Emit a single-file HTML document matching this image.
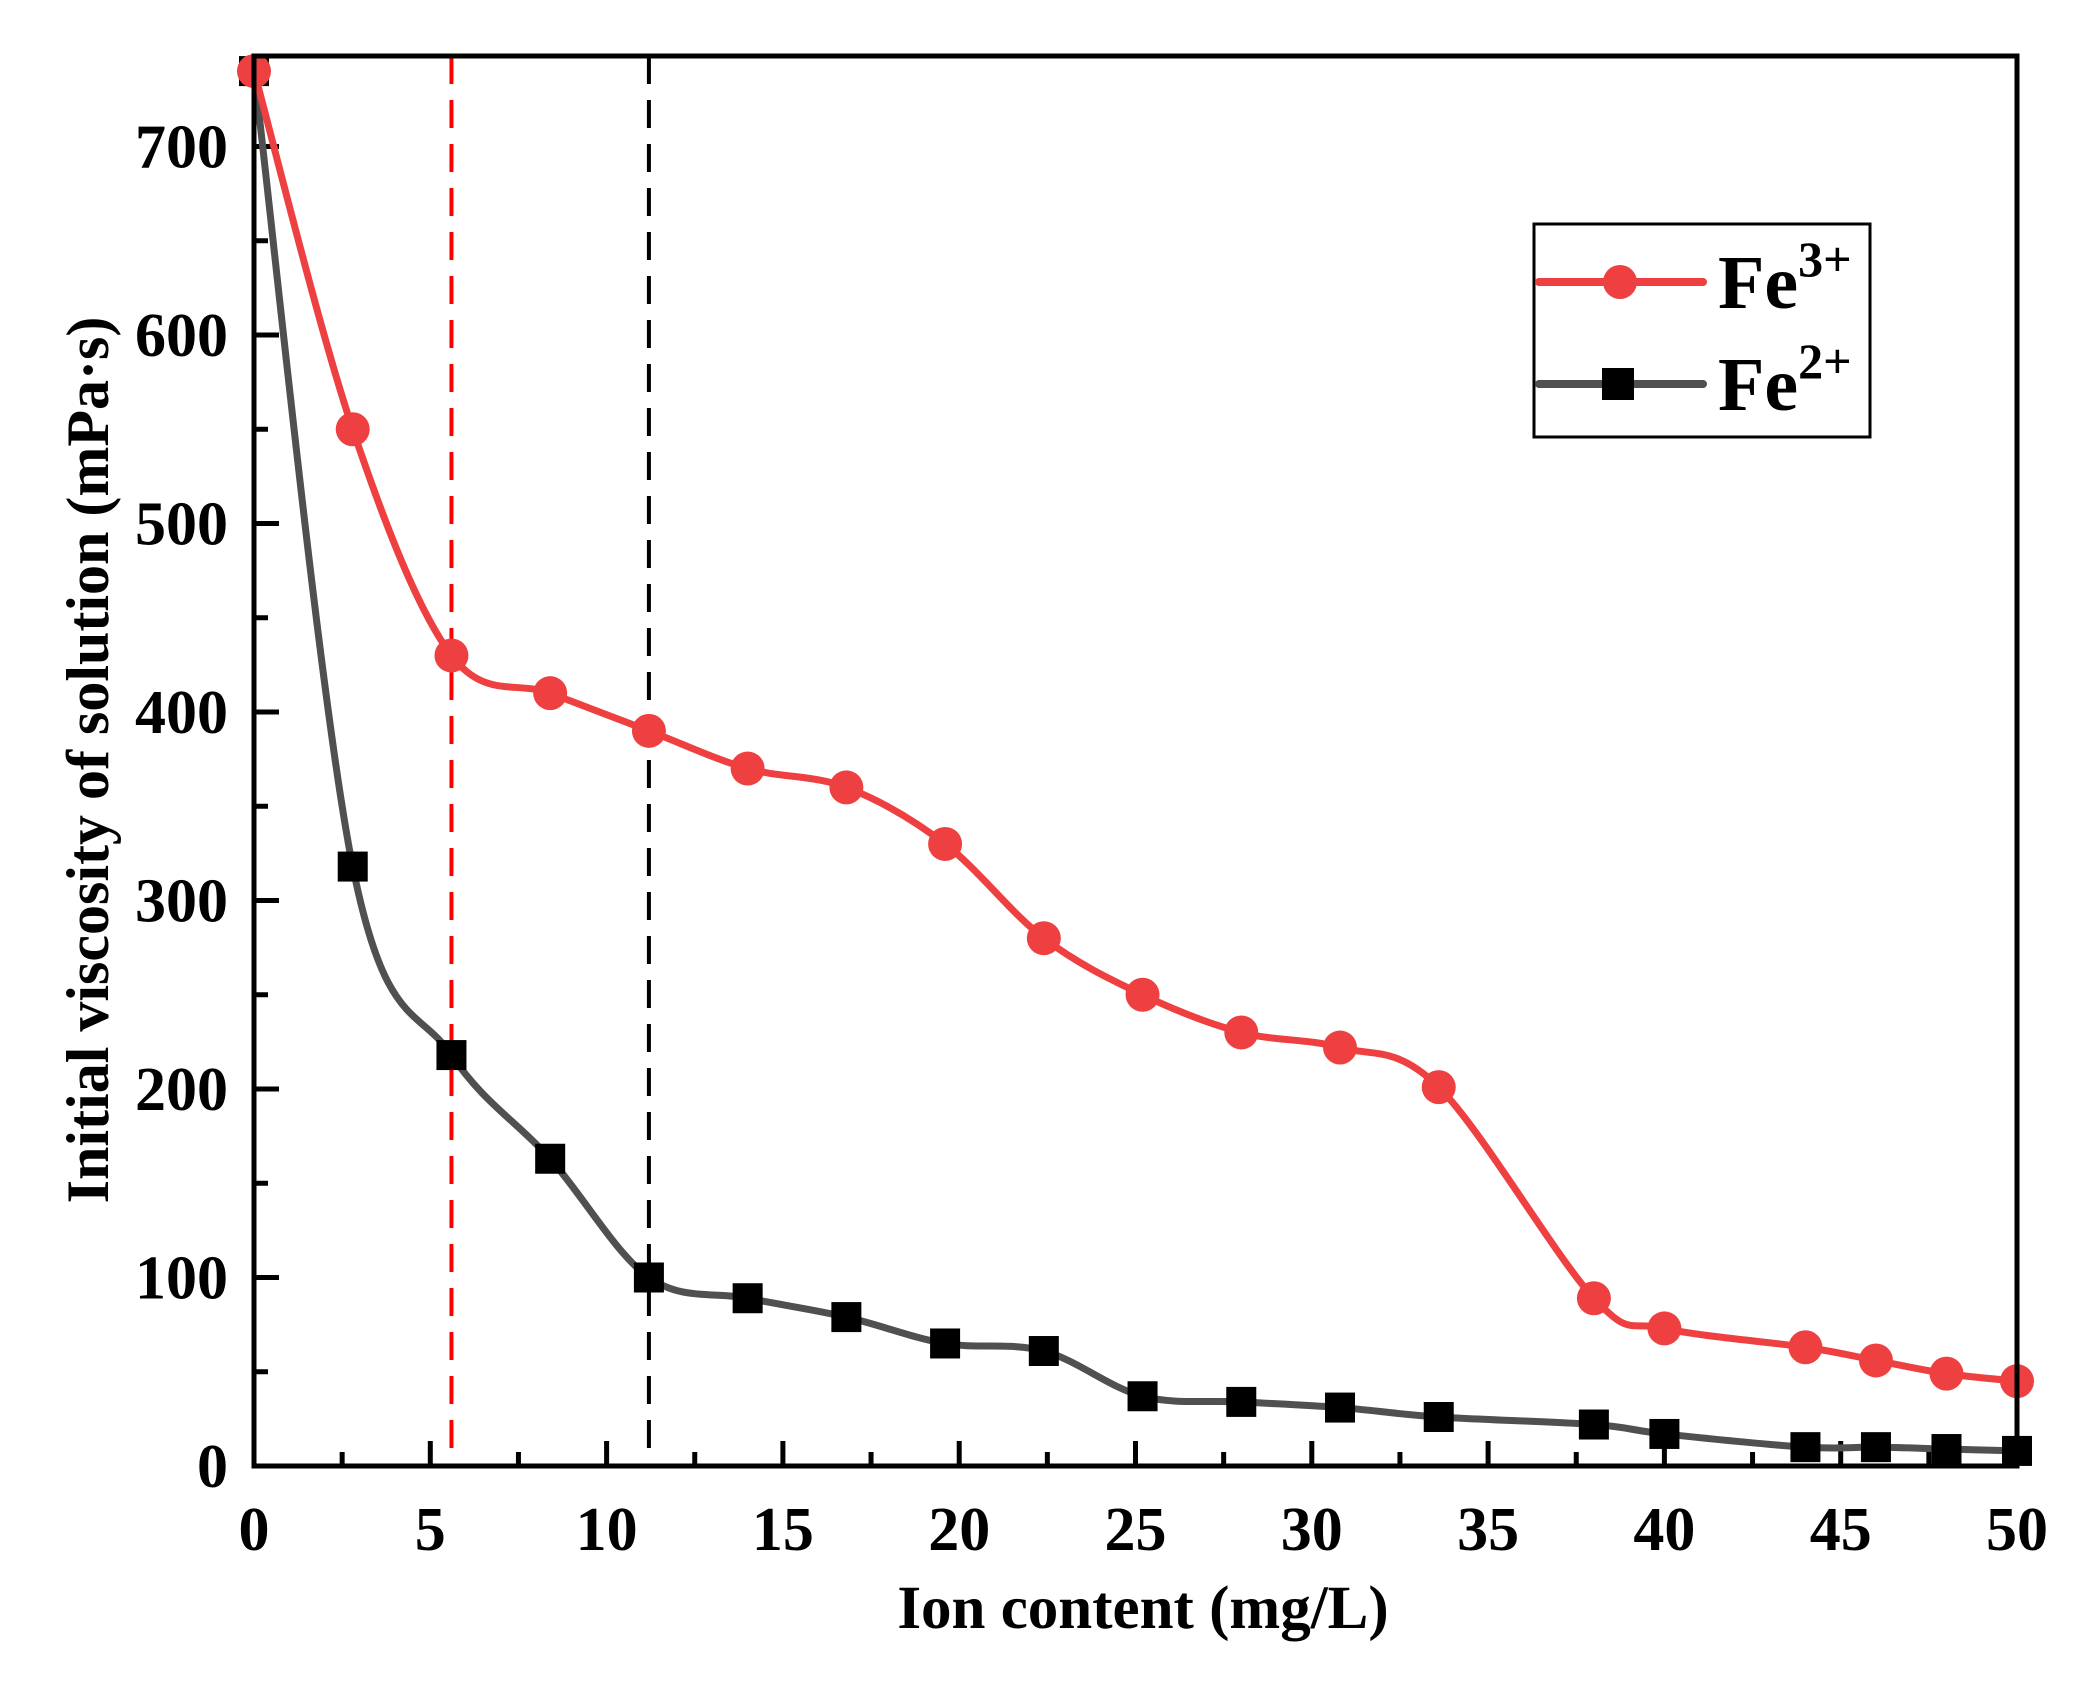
<!DOCTYPE html>
<html><head><meta charset="utf-8"><style>
html,body{margin:0;padding:0;background:#fff}
svg{display:block}
text{font-family:"Liberation Serif",serif;font-weight:bold;fill:#000}
</style></head><body>
<svg id="s" width="2078" height="1707" viewBox="0 0 2078 1707" xmlns="http://www.w3.org/2000/svg">
<rect width="2078" height="1707" fill="#fff"/>
<g id="g"></g>
<rect x="254" y="56" width="1763" height="1410" fill="none" stroke="#000" stroke-width="5"/>
<text x="1143" y="1628" font-size="61" text-anchor="middle">Ion content (mg/L)</text>
<text transform="translate(108,760) rotate(-90)" font-size="60" text-anchor="middle">Initial viscosity of solution (mPa·s)</text>
<g transform="translate(-8,0)">
<rect x="1542" y="224" width="336" height="213" fill="#fff" stroke="#000" stroke-width="3"/>
<line x1="1547" y1="282" x2="1711" y2="282" stroke="#ee4040" stroke-width="8" stroke-linecap="round"/>
<circle cx="1628" cy="282" r="17" fill="#ee4040"/>
<line x1="1547" y1="384" x2="1711" y2="384" stroke="#505050" stroke-width="8" stroke-linecap="round"/>
<rect x="1610" y="368" width="32" height="32" fill="#000"/>
<text x="1726" y="308" font-size="76">Fe<tspan font-size="50" dy="-32">3+</tspan></text>
<text x="1726" y="410" font-size="76">Fe<tspan font-size="50" dy="-32">2+</tspan></text>
</g>
</svg>
<script>
var g=document.getElementById('g'),NS='http://www.w3.org/2000/svg';
function X(v){return 254+v*35.26}function Y(v){return 1466-v*1.885}
function el(t,a){var e=document.createElementNS(NS,t);for(var k in a)e.setAttribute(k,a[k]);g.appendChild(e);return e}
for(var i=0;i<=20;i++){var x=X(i*2.5),L=i%2?14:25;el('line',{x1:x,y1:1466,x2:x,y2:1466-L,stroke:'#000','stroke-width':5});
 if(i%2==0){var t=el('text',{x:x,y:1550,'font-size':62,'text-anchor':'middle'});t.textContent=i*2.5;}}
for(var i=0;i<=14;i++){var y=Y(i*50),L=i%2?14:25;el('line',{x1:254,y1:y,x2:254+L,y2:y,stroke:'#000','stroke-width':5});
 if(i%2==0){var t=el('text',{x:228,y:y+21,'font-size':62,'text-anchor':'end'});t.textContent=i*50;}}
el('line',{x1:X(5.6),y1:56,x2:X(5.6),y2:1466,stroke:'#ff0000','stroke-width':4,'stroke-dasharray':'28,16'});
el('line',{x1:X(11.2),y1:56,x2:X(11.2),y2:1466,stroke:'#000','stroke-width':4,'stroke-dasharray':'28,16'});
var xs=[0,2.8,5.6,8.4,11.2,14,16.8,19.6,22.4,25.2,28,30.8,33.6,38,40,44,46,48,50];
var r=[740,550,430,410,390,370,360,330,280,250,230,222,201,89,73,63,56,49,45];
var b=[740,318,218,163,100,89,79,65,61,37,34,31,26,22,17,10,10,9,8];
function path(ys){var p=xs.map(function(v,i){return [X(v),Y(ys[i])]});var d='M'+p[0];
 for(var i=0;i<p.length-1;i++){var p0=p[i?i-1:0],p1=p[i],p2=p[i+1],p3=p[i+2<p.length?i+2:i+1];
 var c1=[p1[0]+(p2[0]-p0[0])/6,p1[1]+(p2[1]-p0[1])/6],c2=[p2[0]-(p3[0]-p1[0])/6,p2[1]-(p3[1]-p1[1])/6];
 d+='C'+c1+' '+c2+' '+p2;}return d}
el('path',{d:path(b),fill:'none',stroke:'#505050','stroke-width':7});
b.forEach(function(v,i){el('rect',{x:X(xs[i])-15,y:Y(v)-15,width:30,height:30,fill:'#000'})});
el('path',{d:path(r),fill:'none',stroke:'#ee4040','stroke-width':7});
r.forEach(function(v,i){el('circle',{cx:X(xs[i]),cy:Y(v),r:17,fill:'#ee4040'})});
</script>
</body></html>
